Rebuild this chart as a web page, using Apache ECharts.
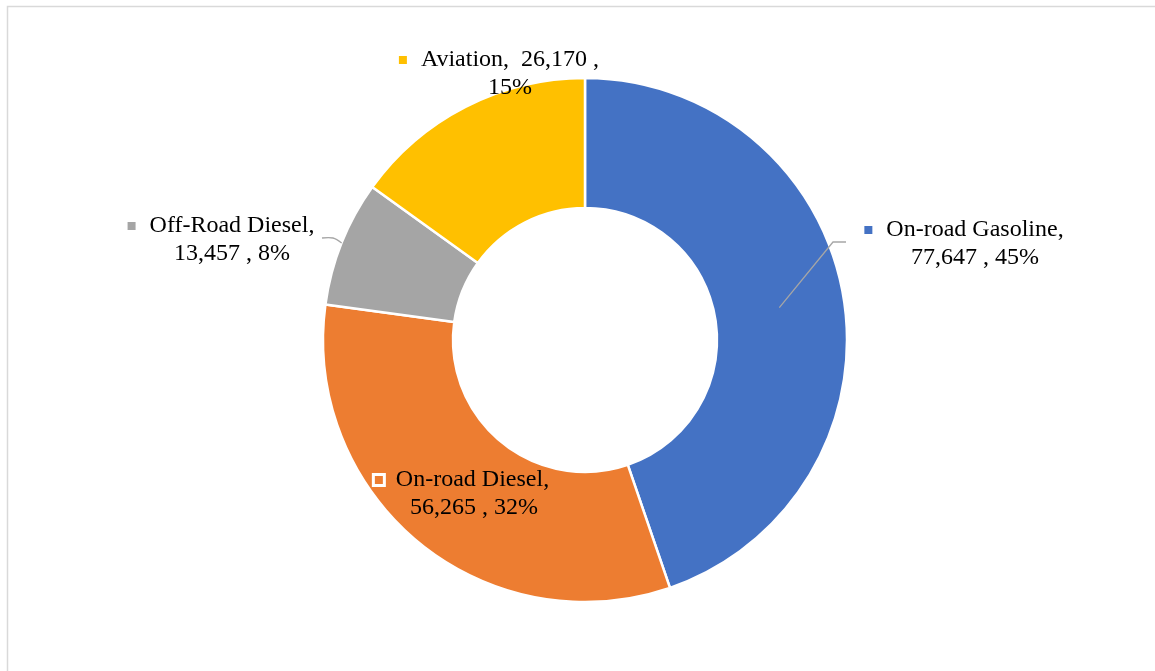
<!DOCTYPE html>
<html>
<head>
<meta charset="utf-8">
<script src="https://cdn.jsdelivr.net/npm/echarts@6/dist/echarts.min.js"></script>
<style>
  html, body { margin: 0; padding: 0; background: #fff; }
  #chart { width: 1155px; height: 671px; }
</style>
</head>
<body>
<div id="chart"></div>
<script>
// Fuel use by transport segment
const categories = ['On-road Gasoline', 'On-road Diesel', 'Off-Road Diesel', 'Aviation'];
const values = [77647, 56265, 13457, 26170];
const colors = ['#4472C4', '#ED7D31', '#A5A5A5', '#FFC000'];

// Ring geometry
const CX = 585, CY = 340, R_IN = 132, R_OUT = 262;

// Label placement (centre of each label block) and how its text wraps
const labelPlacement = {
  'On-road Gasoline': { x: 975, y: 244, wrap: 'name' },
  'On-road Diesel':   { x: 474, y: 494, wrap: 'name', inside: true },
  'Off-Road Diesel':  { x: 232, y: 240, wrap: 'name' },
  'Aviation':         { x: 510, y: 74,  wrap: 'value' }
};

// Leader lines: end point near the label, short horizontal run, and where on the ring they start
const leaders = {
  'On-road Gasoline': { end: [846, 242], run: -13, at: 'mid', smooth: 0 },
  'Off-Road Diesel':  { end: [322, 238], run: 11, at: 'outer', smooth: 0.35 }
};

const total = values.reduce((a, b) => a + b, 0);
const midAngles = [];
(function () {
  let cum = 0;
  values.forEach(v => {
    midAngles.push((90 - 360 * (cum + v / 2) / total) * Math.PI / 180);
    cum += v;
  });
})();

// Leader polylines drawn on top of the ring, starting at each slice's mid angle
const leaderGraphics = categories.map((name, i) => {
  const ld = leaders[name];
  if (!ld) return null;
  const a = midAngles[i];
  const r = ld.at === 'mid' ? (R_IN + R_OUT) / 2 : R_OUT;
  const start = [CX + r * Math.cos(a), CY - r * Math.sin(a)];
  return {
    type: 'polyline',
    z: 100,
    silent: true,
    shape: { points: [start, [ld.end[0] + ld.run, ld.end[1]], ld.end], smooth: ld.smooth },
    style: { fill: null, stroke: '#a6a6a6', lineWidth: 1.3 }
  };
}).filter(Boolean);

const font = { fontFamily: 'Liberation Serif, Times New Roman, serif', fontSize: 24, lineHeight: 28, color: '#000' };

function richFor(i) {
  const inside = labelPlacement[categories[i]].inside;
  const marker = inside
    ? { width: 8, height: 8, backgroundColor: colors[i], borderColor: '#fff', borderWidth: 3 }
    : { width: 8, height: 8, backgroundColor: colors[i] };
  const gap = inside ? 13 : 14;
  const side = inside ? 24 : 22;
  return {
    m: marker,
    g: { width: gap },
    p: { width: side },
    t: Object.assign({}, font)
  };
}

const fmt = n => n.toLocaleString('en-US');

const data = categories.map((name, i) => ({
  name,
  value: values[i],
  itemStyle: { color: colors[i] },
  label: { rich: richFor(i) }
}));

const chart = echarts.init(document.getElementById('chart'), null, { renderer: 'canvas' });

chart.setOption({
  backgroundColor: '#fff',
  animation: false,
  graphic: [{
    type: 'rect',
    shape: { x: 7.5, y: 6.5, width: 1200, height: 700 },
    style: { fill: 'none', stroke: '#d9d9d9', lineWidth: 1.5 },
    silent: true
  }].concat(leaderGraphics),
  series: [{
    type: 'pie',
    center: [CX, CY],
    radius: [R_IN, R_OUT],
    startAngle: 90,
    clockwise: true,
    percentPrecision: 0,
    avoidLabelOverlap: false,
    itemStyle: { borderColor: '#fff', borderWidth: 2.5 },
    emphasis: { disabled: true },
    label: Object.assign({
      show: true,
      position: 'outside',
      formatter: function (p) {
        const wrap = labelPlacement[p.name].wrap;
        if (wrap === 'value') {
          return '{m|}{g|}{t|' + p.name + ',  ' + fmt(p.value) + ' ,}{p|}\n{t|' + p.percent + '%}';
        }
        return '{m|}{g|}{t|' + p.name + ',}{p|}\n{t|' + fmt(p.value) + ' , ' + p.percent + '%}';
      }
    }, font),
    labelLine: { show: false },
    labelLayout: function (params) {
      const pl = labelPlacement[categories[params.dataIndex]];
      return { x: pl.x, y: pl.y, align: 'center', verticalAlign: 'middle' };
    },
    data
  }]
});
</script>
</body>
</html>
